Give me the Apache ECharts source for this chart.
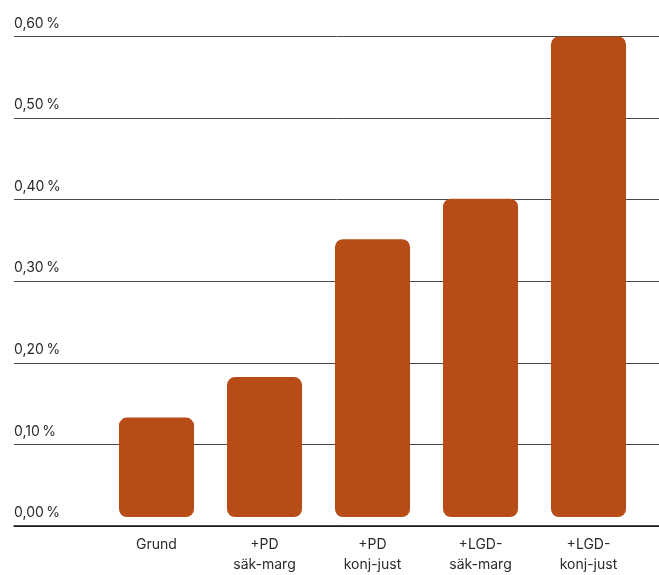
<!DOCTYPE html>
<html>
<head>
<meta charset="utf-8">
<style>
  html, body { margin: 0; padding: 0; background: #ffffff; }
  #chart { width: 659px; height: 575px; }
</style>
<script src="https://cdn.jsdelivr.net/npm/echarts@6/dist/echarts.min.js"></script>
</head>
<body>
<div id="chart"></div>
<script>
const categories = ['Grund', '+PD\nsäk-marg', '+PD\nkonj-just', '+LGD-\nsäk-marg', '+LGD-\nkonj-just'];
const values = [0.13, 0.18, 0.35, 0.40, 0.60];
const yTicks = { min: 0, max: 0.6, interval: 0.1 };

const FONT = 'Inter';
const BAR_COLOR = '#B84C17';
const chart = echarts.init(document.getElementById('chart'), null, { renderer: 'canvas' });

const option = {
  animation: false,
  backgroundColor: '#ffffff',
  grid: [
    { left: 14, right: 0, top: 36.5, bottom: 49, containLabel: false },
    { left: 102.5, right: 16.5, top: 36.5, bottom: 49, containLabel: false }
  ],
  xAxis: [
    {
      gridIndex: 0, type: 'value', min: 0, max: 1,
      axisLine: { show: true, onZero: false, lineStyle: { color: '#111111', width: 1.5 } },
      axisTick: { show: false }, axisLabel: { show: false }, splitLine: { show: false }
    },
    {
      gridIndex: 1, type: 'category', data: categories,
      axisLine: { show: false }, axisTick: { show: false },
      axisLabel: {
        show: true, interval: 0, margin: 12,
        fontFamily: FONT, fontSize: 14, color: '#2a2a2a', lineHeight: 20, align: 'center'
      }
    }
  ],
  yAxis: [
    {
      gridIndex: 0, type: 'value', min: yTicks.min, max: yTicks.max, interval: yTicks.interval,
      axisLine: { show: false }, axisTick: { show: false },
      splitLine: { show: true, lineStyle: { color: '#4a4a4a', width: 1 } },
      axisLabel: {
        show: true, inside: true, margin: 0, align: 'left', verticalAlign: 'bottom',
        padding: [0, 0, 6, 0],
        fontFamily: FONT, fontSize: 14, color: '#2a2a2a',
        formatter: function (v) { return v.toFixed(2).replace('.', ',') + '\u2009%'; }
      }
    },
    {
      gridIndex: 1, type: 'value', min: yTicks.min, max: yTicks.max, interval: yTicks.interval,
      show: false
    }
  ],
  series: [
    {
      type: 'custom',
      xAxisIndex: 1, yAxisIndex: 1,
      data: values.map(function (v, i) { return [i, v]; }),
      renderItem: function (params, api) {
        const top = api.coord([api.value(0), api.value(1)]);
        const base = api.coord([api.value(0), 0]);
        const w = api.size([1, 0])[0] * 0.695;
        const bottom = base[1] - 6;
        return {
          type: 'rect',
          shape: { x: top[0] - w / 2, y: top[1], width: w, height: bottom - top[1], r: 8 },
          style: { fill: BAR_COLOR }
        };
      }
    }
  ]
};
chart.setOption(option);
</script>
</body>
</html>
